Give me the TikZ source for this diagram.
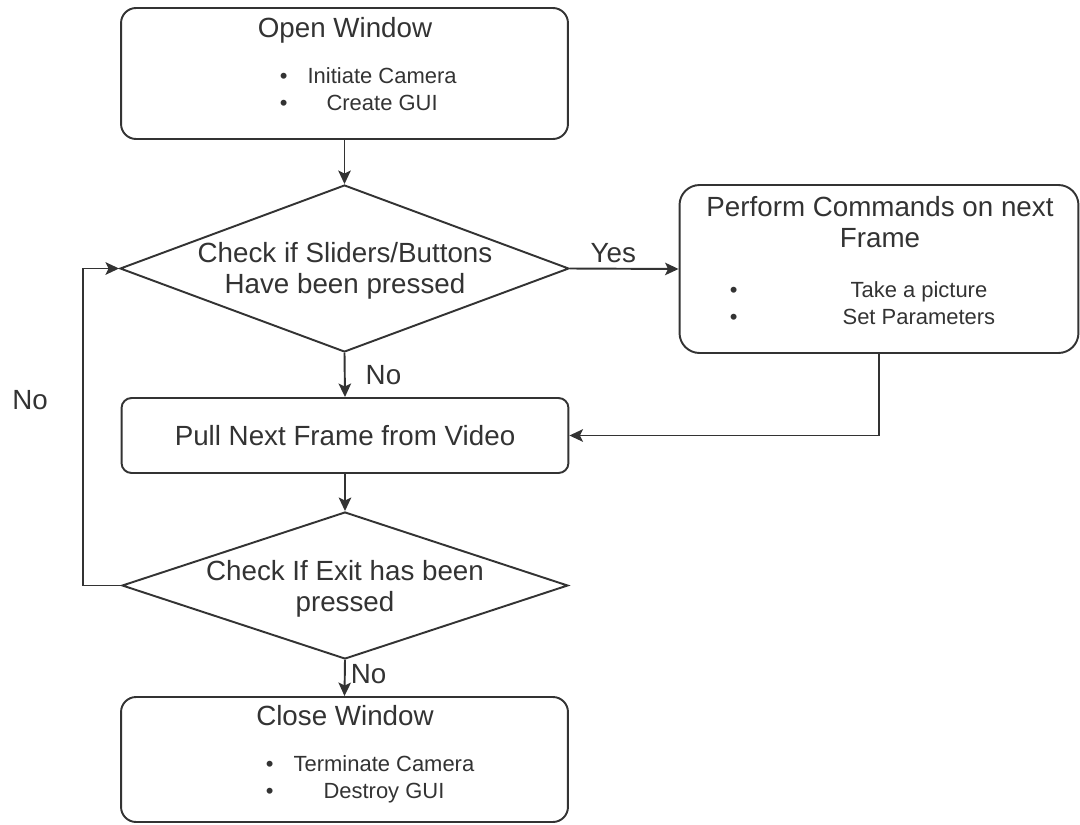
\documentclass[tikz,border=0pt]{standalone}
\usepackage{fontspec}
\setmainfont{Liberation Sans}
\usetikzlibrary{shapes.geometric,arrows.meta}
\definecolor{linegray}{HTML}{333333}

\begin{document}
\begin{tikzpicture}[x=0.02cm, y=-0.02cm, color=linegray, line width=1.1pt,
	box/.style={draw, rounded corners=0.3cm, minimum width=8.94cm, inner sep=0pt},
	decision/.style={draw, diamond, inner sep=0pt},
	big/.style={font=\fontsize{15.8}{18}\selectfont, align=center, inner sep=0pt},
	small/.style={font=\fontsize{12.5}{15.4}\selectfont, inner sep=0pt},
	flow/.style={draw, -{Stealth[length=2.7mm, width=2.5mm, inset=0.6mm]}}]
	\useasboundingbox (0,0) rectangle (1080,825);
	%\draw[step=100, black!10] (0,0) grid (1080,825);
	\node[box, minimum height=2.62cm] (open) at (344.5,73.5) {};
	\node[big] (opentitle) at (345,30) {Open Window};
	\node[small, anchor=west] (openlist) at (279,91.5) {\begin{tabular}{@{}l@{\hspace{0.4cm}}c@{}}• & Initiate Camera\\ • & Create GUI\end{tabular}};
	\node[decision, minimum width=8.98cm, minimum height=3.34cm] (sliders) at (344.5,268.5) {};
	\node[big] (sliderstext) at (345,271) {Check if Sliders/Buttons\\Have been pressed};
	\node[box, minimum width=7.98cm, minimum height=3.36cm, rounded corners=0.4cm] (perform) at (879,269) {};
	\node[big] (performtitle) at (880,222) {Perform Commands on next\\Frame};
	\node[small, anchor=west] (performlist) at (729,306) {\begin{tabular}{@{}l@{\hspace{2.1cm}}c@{}}• & Take a picture\\ • & Set Parameters\end{tabular}};
	\node[box, big, minimum height=1.5cm, rounded corners=0.2cm] (pull) at (345,435.5) {Pull Next Frame from Video};
	\node[decision, minimum width=8.92cm, minimum height=2.94cm] (exit) at (345,585.5) {};
	\node[big] (exittext) at (345,589) {Check If Exit has been\\pressed};
	\node[box, minimum height=2.5cm] (close) at (344.5,759.5) {};
	\node[big] (closetitle) at (345,716) {Close Window};
	\node[small, anchor=west] (closelist) at (265,780) {\begin{tabular}{@{}l@{\hspace{0.4cm}}c@{}}• & Terminate Camera\\ • & Destroy GUI\end{tabular}};
	\coordinate (loop) at (83,585.5);
	% connectors
	\draw[flow] (open.south) -- (sliders.north);
	\draw[flow] (sliders.east) -- node[big, above, pos=0.4, inner sep=3pt] (yes) {Yes} (perform.west);
	\draw[flow] (sliders.south) -- node[big, right, xshift=0.4cm] (no1) {No} (pull.north);
	\draw[flow] (perform.south) |- (pull.east);
	\draw[flow] (pull.south) -- (exit.north);
	\draw[flow] (exit.west) -- (loop) |- (sliders.west);
	\node[big] (no2) at (30,400) {No};
	\draw[flow] (exit.south) -- node[big, right, xshift=0.1cm, pos=0.4] (no3) {No} (close.north);
\end{tikzpicture}
\end{document}
